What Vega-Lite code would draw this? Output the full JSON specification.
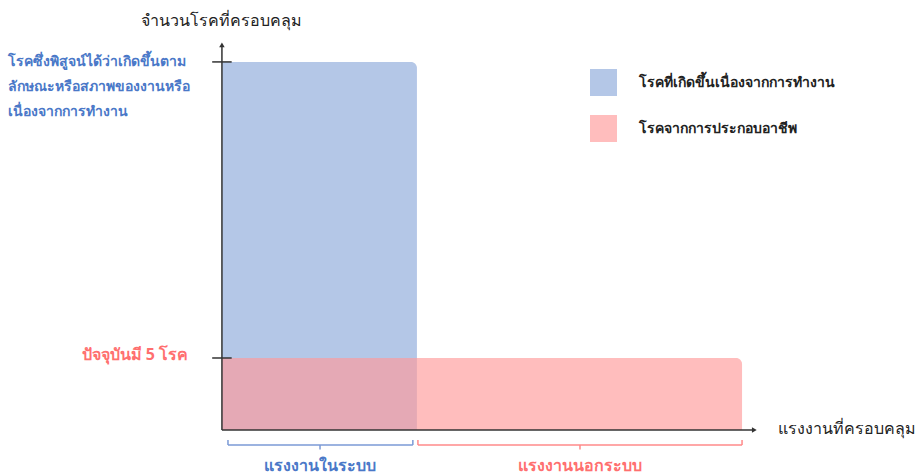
{
  "$schema": "https://vega.github.io/schema/vega-lite/v6.json",
  "width": 916,
  "height": 475,
  "padding": 0,
  "autosize": {"type": "fit", "contains": "padding"},
  "background": "white",
  "config": {"view": {"stroke": null}, "font": "Noto Sans"},
  "datasets": {
    "bars": [
      {"series": "โรคที่เกิดขึ้นเนื่องจากการทำงาน", "x0": 0, "x1": 1, "y0": 0, "y1": 25.56},
      {"series": "โรคจากการประกอบอาชีพ", "x0": 0, "x1": 2.667, "y0": 0, "y1": 5}
    ],
    "axes": [
      {"x": 0, "y": 0, "x2": 0, "y2": 26.6},
      {"x": 0, "y": 0, "x2": 2.72, "y2": 0},
      {"x": -0.05, "y": 25.56, "x2": 0.05, "y2": 25.56},
      {"x": -0.05, "y": 5, "x2": 0.05, "y2": 5}
    ],
    "arrows": [
      {"x": 0, "y": 26.75, "dir": "up"},
      {"x": 2.73, "y": 0, "dir": "right"}
    ],
    "bracketBlue": [
      {"x": 0.031, "y": -1.04, "x2": 0.979, "y2": -1.04},
      {"x": 0.031, "y": -0.69, "x2": 0.031, "y2": -1.04},
      {"x": 0.979, "y": -0.69, "x2": 0.979, "y2": -1.04},
      {"x": 0.503, "y": -1.04, "x2": 0.503, "y2": -1.35}
    ],
    "bracketRed": [
      {"x": 1.005, "y": -1.04, "x2": 2.667, "y2": -1.04},
      {"x": 1.005, "y": -0.69, "x2": 1.005, "y2": -1.04},
      {"x": 2.667, "y": -0.69, "x2": 2.667, "y2": -1.04},
      {"x": 1.836, "y": -1.04, "x2": 1.836, "y2": -1.35}
    ],
    "yTitle": [
      {"x": 0, "y": 28.4, "label": "จำนวนโรคที่ครอบคลุม"}
    ],
    "xTitle": [
      {"x": 2.851, "y": 0.1, "label": "แรงงานที่ครอบคลุม"}
    ],
    "blueNote": [
      {"x": -1.097, "y": 25.56, "label": "โรคซึ่งพิสูจน์ได้ว่าเกิดขึ้นตาม"},
      {"x": -1.097, "y": 23.82, "label": "ลักษณะหรือสภาพของงานหรือ"},
      {"x": -1.097, "y": 22.08, "label": "เนื่องจากการทำงาน"}
    ],
    "redNote": [
      {"x": -0.174, "y": 5.2, "label": "ปัจจุบันมี 5 โรค"}
    ],
    "blueGroup": [{"x": 0.503, "y": -2.5, "label": "แรงงานในระบบ"}],
    "redGroup": [{"x": 1.836, "y": -2.5, "label": "แรงงานนอกระบบ"}]
  },
  "layer": [
    {
      "data": {"name": "bars"},
      "mark": {"type": "rect", "opacity": 0.65, "cornerRadiusTopRight": 6},
      "encoding": {
        "x": {"field": "x0", "type": "quantitative", "scale": {"domain": [-1.138, 3.559], "nice": false, "zero": false}, "axis": null},
        "x2": {"field": "x1"},
        "y": {"field": "y0", "type": "quantitative", "scale": {"domain": [-3.125, 29.86], "nice": false, "zero": false}, "axis": null},
        "y2": {"field": "y1"},
        "color": {
          "field": "series", "type": "nominal",
          "scale": {"domain": ["โรคที่เกิดขึ้นเนื่องจากการทำงาน", "โรคจากการประกอบอาชีพ"], "range": ["#8ca9da", "#ff9999"]},
          "legend": {
            "orient": "none", "legendX": 590, "legendY": 69, "title": null,
            "symbolType": "square", "symbolSize": 729, "symbolStrokeWidth": 0, "symbolOpacity": 0.65,
            "labelFontSize": 14, "labelFontWeight": "bold", "labelColor": "#222222", "labelOffset": 22,
            "labelLimit": 400, "rowPadding": 19, "padding": 0
          }
        },
        "order": {"field": "y1", "sort": "descending"}
      }
    },
    {
      "data": {"name": "axes"},
      "mark": {"type": "rule", "color": "#333333", "strokeWidth": 1.5},
      "encoding": {
        "x": {"field": "x", "type": "quantitative"},
        "x2": {"field": "x2"},
        "y": {"field": "y", "type": "quantitative"},
        "y2": {"field": "y2"}
      }
    },
    {
      "data": {"name": "arrows"},
      "mark": {"type": "point", "filled": true, "color": "#333333", "size": 30, "opacity": 1},
      "encoding": {
        "x": {"field": "x", "type": "quantitative"},
        "y": {"field": "y", "type": "quantitative"},
        "shape": {"field": "dir", "type": "nominal", "scale": {"domain": ["up", "right"], "range": ["triangle-up", "triangle-right"]}, "legend": null}
      }
    },
    {
      "data": {"name": "bracketBlue"},
      "mark": {"type": "rule", "color": "#7b9ad6", "strokeWidth": 1.5},
      "encoding": {
        "x": {"field": "x", "type": "quantitative"},
        "x2": {"field": "x2"},
        "y": {"field": "y", "type": "quantitative"},
        "y2": {"field": "y2"}
      }
    },
    {
      "data": {"name": "bracketRed"},
      "mark": {"type": "rule", "color": "#ff8a8a", "strokeWidth": 1.5},
      "encoding": {
        "x": {"field": "x", "type": "quantitative"},
        "x2": {"field": "x2"},
        "y": {"field": "y", "type": "quantitative"},
        "y2": {"field": "y2"}
      }
    },
    {
      "data": {"name": "yTitle"},
      "mark": {"type": "text", "fontSize": 16, "color": "#222222", "align": "center", "baseline": "middle"},
      "encoding": {
        "x": {"field": "x", "type": "quantitative"},
        "y": {"field": "y", "type": "quantitative"},
        "text": {"field": "label"}
      }
    },
    {
      "data": {"name": "xTitle"},
      "mark": {"type": "text", "fontSize": 16, "color": "#222222", "align": "left", "baseline": "middle"},
      "encoding": {
        "x": {"field": "x", "type": "quantitative"},
        "y": {"field": "y", "type": "quantitative"},
        "text": {"field": "label"}
      }
    },
    {
      "data": {"name": "blueNote"},
      "mark": {"type": "text", "fontSize": 14, "fontWeight": "bold", "color": "#4a78c8", "align": "left", "baseline": "middle"},
      "encoding": {
        "x": {"field": "x", "type": "quantitative"},
        "y": {"field": "y", "type": "quantitative"},
        "text": {"field": "label"}
      }
    },
    {
      "data": {"name": "redNote"},
      "mark": {"type": "text", "fontSize": 16, "fontWeight": "bold", "color": "#ff6f6f", "align": "right", "baseline": "middle"},
      "encoding": {
        "x": {"field": "x", "type": "quantitative"},
        "y": {"field": "y", "type": "quantitative"},
        "text": {"field": "label"}
      }
    },
    {
      "data": {"name": "blueGroup"},
      "mark": {"type": "text", "fontSize": 16, "fontWeight": "bold", "color": "#4a78c8", "align": "center", "baseline": "middle"},
      "encoding": {
        "x": {"field": "x", "type": "quantitative"},
        "y": {"field": "y", "type": "quantitative"},
        "text": {"field": "label"}
      }
    },
    {
      "data": {"name": "redGroup"},
      "mark": {"type": "text", "fontSize": 16, "fontWeight": "bold", "color": "#ff6f6f", "align": "center", "baseline": "middle"},
      "encoding": {
        "x": {"field": "x", "type": "quantitative"},
        "y": {"field": "y", "type": "quantitative"},
        "text": {"field": "label"}
      }
    }
  ]
}
